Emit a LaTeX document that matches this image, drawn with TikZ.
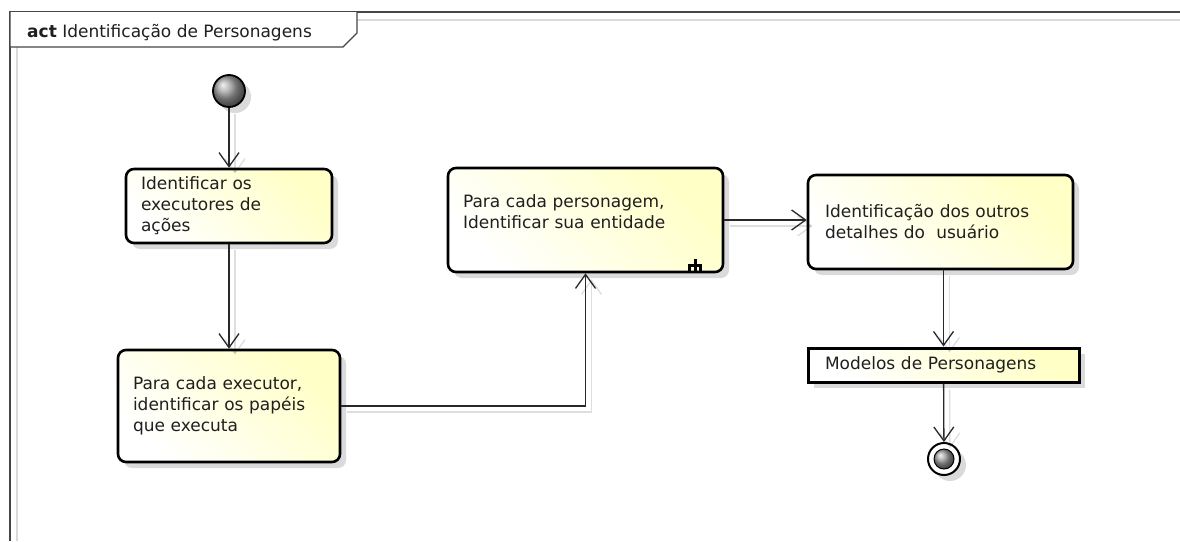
\documentclass[tikz,border=0pt]{standalone}
\usepackage{fontspec}
\setmainfont{DejaVu Sans}
\usetikzlibrary{arrows.meta,shadows,calc}
\definecolor{ylw}{RGB}{255,255,198}
\definecolor{conncol}{RGB}{40,40,40}
\definecolor{shd}{RGB}{218,218,218}
\definecolor{framecol}{RGB}{70,70,70}
\begin{document}
\begin{tikzpicture}[x=1pt,y=-1pt,
  txt/.style={font=\fontsize{17pt}{21pt}\selectfont, text=black!88},
  myshadow/.style={drop shadow={shadow xshift=6pt, shadow yshift=-6pt, fill=shd, opacity=1}},
  actbox/.style={txt, draw=black, line width=2.6pt, rounded corners=8pt, align=left,
    inner xsep=15pt, inner ysep=0pt, bottom color=white, top color=ylw, shading angle=-45, myshadow},
  objbox/.style={txt, draw=black, line width=3pt, align=left,
    inner xsep=17pt, inner ysep=0pt, bottom color=white, top color=ylw, shading angle=-45, myshadow},
  conn/.style={draw=conncol, line width=1.3pt, -{Straight Barb[length=14pt, width=20pt, line width=1.3pt]}},
  cshadow/.style={conn, draw=black, opacity=0.13, transform canvas={xshift=6pt, yshift=-6pt}},
  framest/.style={draw=framecol, line width=1.4pt},
  frameshadow/.style={draw=shd, line width=1.4pt},
  rakeicon/.style={fill=black},
]
\useasboundingbox (0,0) rectangle (1180,541);
% frame
\draw[frameshadow] (17,541) -- (17,20) -- (1180,20);
\draw[framest] (10,541) -- (10,12) -- (1180,12);
\filldraw[framest, fill=white] (10,12) -- (10,47) -- (343,47) -- (357,33) -- (357,12);
\node[txt, anchor=base west, inner sep=0pt] (title) at (27,37) {\textbf{act} Identificação de Personagens};

% nodes
\node[circle, draw=black, line width=1.8pt, minimum size=32pt, inner sep=0pt, ball color=gray!75, myshadow] (init) at (229,91) {};
\node[actbox, minimum width=206pt, minimum height=74pt, text width=176pt] (b1) at (229,206)
  {Identificar os\\executores de\\ações};
\node[actbox, minimum width=222pt, minimum height=112pt, text width=192pt] (b2) at (229,406)
  {Para cada executor,\\identificar os papéis\\que executa};
\node[actbox, minimum width=275pt, minimum height=104pt, text width=245pt] (b3) at (585.5,220)
  {Para cada personagem,\\Identificar sua entidade\\[-5pt]\mbox{}};
\node[actbox, minimum width=265pt, minimum height=94pt, text width=231pt, inner xsep=17pt] (b4) at (940.5,222)
  {Identificação dos outros\\detalhes do~~usuário};
\node[objbox, minimum width=271pt, minimum height=34pt, text width=237pt] (obj) at (943.5,365)
  {Modelos de Personagens};
\node[circle, draw=black, line width=2pt, minimum size=32pt, inner sep=0pt, fill=white, myshadow] (fin) at (944,459) {};
\node[circle, draw=black, line width=1pt, minimum size=20pt, inner sep=0pt, ball color=gray!75] (finin) at (fin) {};

% rake icon
\fill[rakeicon] (688,263.5) rectangle (702,266.5);
\fill[rakeicon] (688,263.5) rectangle (691,272);
\fill[rakeicon] (693.5,259) rectangle (696.5,272);
\fill[rakeicon] (699,263.5) rectangle (702,272);

% connector shadows
\draw[cshadow] (init) -- (b1);
\draw[cshadow] (b1) -- (b2);
\draw[cshadow] (b2.east) -| (b3.south);
\draw[cshadow] (b3.east) -- (b3.east -| b4.west);
\draw[cshadow] (b4.south -| obj.north) -- (obj.north);
\draw[cshadow] (obj) -- (fin);

% connectors
\draw[conn] (init) -- (b1);
\draw[conn] (b1) -- (b2);
\draw[conn] (b2.east) -| (b3.south);
\draw[conn] (b3.east) -- (b3.east -| b4.west);
\draw[conn] (b4.south -| obj.north) -- (obj.north);
\draw[conn] (obj) -- (fin);
\end{tikzpicture}
\end{document}
